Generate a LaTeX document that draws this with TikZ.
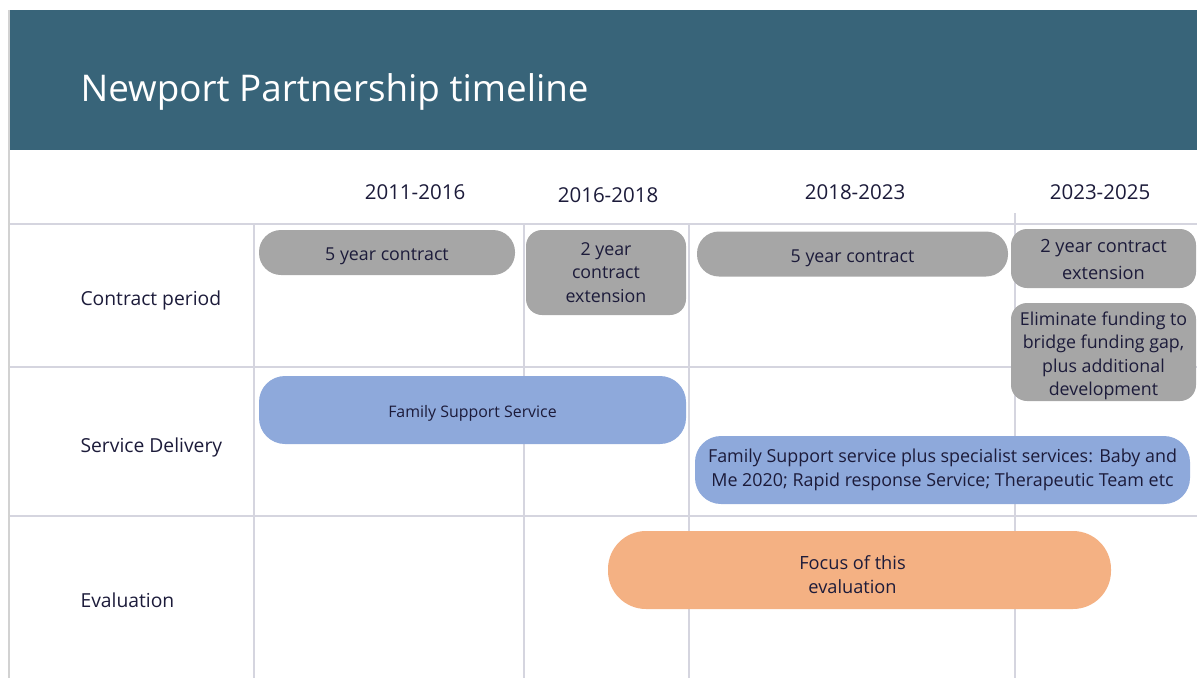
\documentclass[tikz,border=0pt]{standalone}
\usepackage{fontspec}
\setmainfont{Open Sans}
\definecolor{banner}{HTML}{386479}
\definecolor{ink}{HTML}{1C1B3A}
\definecolor{gridgray}{HTML}{D5D5DF}
\definecolor{bargray}{HTML}{A6A6A6}
\definecolor{barblue}{HTML}{8EA9DB}
\definecolor{barorange}{HTML}{F4B183}
\begin{document}
\begin{tikzpicture}
	[x=1pt,y=-1pt,
	 bar/.style={rectangle,text=ink,align=center,inner sep=0pt},
	 graybar/.style={bar,fill=bargray,font=\fontsize{17.8}{23.5}\selectfont},
	 bluebar/.style={bar,fill=barblue,rounded corners=26pt,minimum height=68pt},
	 period/.style={text=ink,font=\fontsize{20.5}{24}\selectfont},
	 rowlabel/.style={text=ink,anchor=west,yshift=-3pt,font=\fontsize{19.3}{22}\selectfont},
	 grid/.style={gridgray,line width=1.2pt}]
	\useasboundingbox (0,0) rectangle (1197,678);
	% banner and table lines
	\fill[banner] (10,10) rectangle (1197,150);
	\node[white,anchor=west,font=\fontsize{36.8}{40}\selectfont,name=title]at(77,92){Newport Partnership timeline};
	\draw[gray!35,line width=2pt] (9,10) -- (9,678);
	\draw[grid] (10,224) -- (1197,224);
	\draw[grid] (10,367) -- (1197,367);
	\draw[grid] (10,516) -- (1197,516);
	\draw[grid] (254,224) -- (254,678);
	\draw[grid] (524,224) -- (524,678);
	\draw[grid] (689,224) -- (689,678);
	\draw[grid] (1015,213) -- (1015,678);
	% periods
	\node[period,name=p1]at(415,192){2011-2016};
	\node[period,name=p2]at(608,195){2016-2018};
	\node[period,name=p3]at(855,192){2018-2023};
	\node[period,name=p4]at(1100,192){2023-2025};
	% rows
	\node[rowlabel,name=r1]at(77,297){Contract period};
	\node[rowlabel,name=r2]at(77,444){Service Delivery};
	\node[rowlabel,name=r3]at(77,597){Evaluation};
	% contract period
	\node[graybar,rounded corners=22pt,minimum width=256pt,minimum height=45pt,text height=15.6pt,text depth=0pt,name=c1]at(387,252.5){5 year contract};
	\node[graybar,rounded corners=16pt,minimum width=160pt,minimum height=85pt,name=c2]at(606,272.5){2 year\\contract\\extension};
	\node[graybar,rounded corners=22pt,minimum width=311pt,minimum height=45pt,text height=16.6pt,text depth=0pt,name=c3]at(852.5,254){5 year contract};
	\node[graybar,rounded corners=16pt,minimum width=185pt,minimum height=59pt,text height=42pt,text depth=0pt,font=\fontsize{18.2}{27}\selectfont,name=c4]at(1103.5,258.5){2 year contract\\extension};
	\node[graybar,rounded corners=16pt,minimum width=185pt,minimum height=98pt,text height=87pt,text depth=0pt,name=c5]at(1103.5,352){Eliminate funding to\\bridge funding gap,\\plus additional\\development};
	% service delivery
	\node[bluebar,minimum width=427pt,font=\fontsize{15.9}{20}\selectfont,text height=14.1pt,text depth=0pt,name=s1]at(472.5,410){Family Support Service};
	\node[bluebar,minimum width=495pt,font=\fontsize{17.9}{24}\selectfont,name=s2]at(942.5,470){Family Support service plus specialist services: Baby and\\Me 2020; Rapid response Service; Therapeutic Team etc};
	% evaluation
	\node[bar,fill=barorange,rounded corners=38pt,minimum width=503pt,minimum height=78pt,font=\fontsize{18.2}{24}\selectfont,text height=47pt,text depth=0pt,name=e1]at(859.5,570){\hspace*{-14pt}Focus of this\\\hspace*{-14pt}evaluation};
\end{tikzpicture}
\end{document}
